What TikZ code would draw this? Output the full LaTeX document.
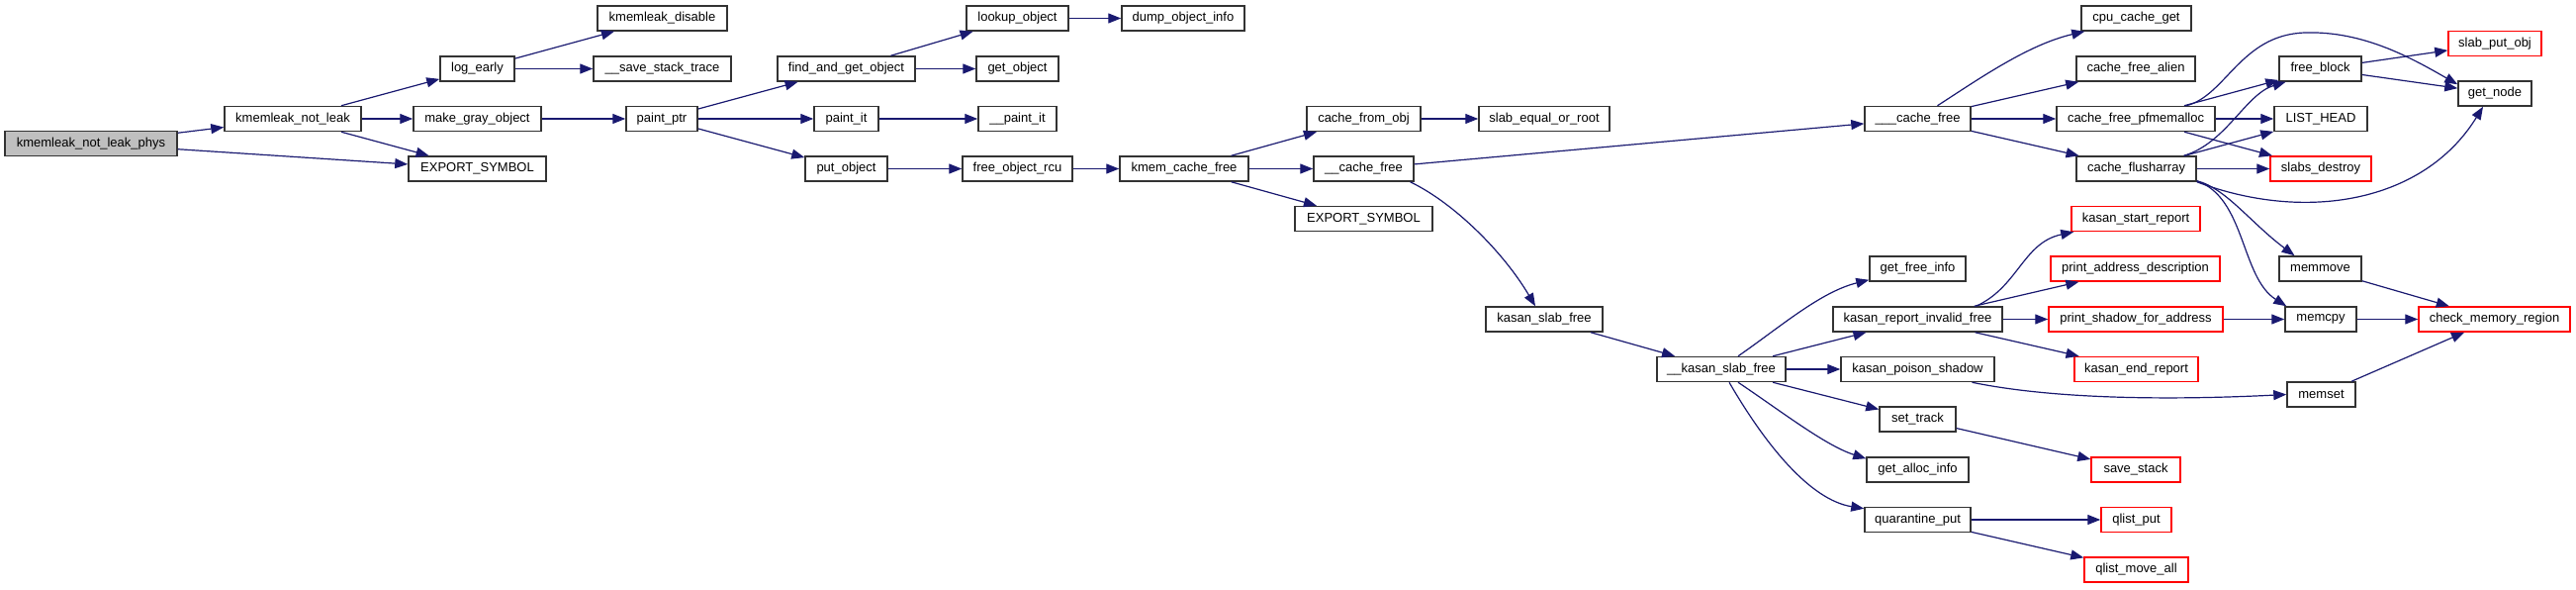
\documentclass[tikz,border=0pt]{standalone}
\usepackage{fontspec}
\setmainfont{Liberation Sans}
\usetikzlibrary{arrows.meta}
\definecolor{midnightblue}{HTML}{191970}
\definecolor{rootgray}{HTML}{BFBFBF}
\begin{document}
\begin{tikzpicture}[x=1pt,y=1pt,
    fn/.style={draw=black!80,line width=1.5pt,minimum height=25pt,inner sep=0pt,
        font=\fontsize{13}{15}\selectfont},
    root/.style={fn,fill=rootgray},
    ext/.style={fn,draw=red},
    call/.style={draw=midnightblue,line width=1.2pt,-{Triangle[length=13pt,width=10pt]}}]
\useasboundingbox (0,0) rectangle (2604,-595);
\node[root,minimum width=174] (phys) at (92,-145) {kmemleak\_not\_leak\_phys};
\node[fn,minimum width=138] (notleak) at (296,-120) {kmemleak\_not\_leak};
\node[fn,minimum width=131] (kdisable) at (669.5,-18.5) {kmemleak\_disable};
\node[fn,minimum width=75] (logearly) at (482.5,-69.5) {log\_early};
\node[fn,minimum width=139] (savetrace) at (669.5,-69.5) {\_\_save\_stack\_trace};
\node[fn,minimum width=129] (mkgray) at (482.5,-120) {make\_gray\_object};
\node[fn,minimum width=139] (export1) at (482.5,-170.5) {EXPORT\_SYMBOL};
\node[fn,minimum width=72] (paintptr) at (669,-120) {paint\_ptr};
\node[fn,minimum width=139] (findget) at (855.5,-69.5) {find\_and\_get\_object};
\node[fn,minimum width=103] (lookup) at (1028.5,-18.5) {lookup\_object};
\node[fn,minimum width=124] (dumpinfo) at (1196,-18.5) {dump\_object\_info};
\node[fn,minimum width=83] (getobj) at (1028.5,-69.5) {get\_object};
\node[fn,minimum width=65] (paintit) at (855.5,-120) {paint\_it};
\node[fn,minimum width=79] (upaintit) at (1028.5,-120) {\_\_paint\_it};
\node[fn,minimum width=83] (putobj) at (855.5,-170.5) {put\_object};
\node[fn,minimum width=111] (freercu) at (1028.5,-170.5) {free\_object\_rcu};
\node[fn,minimum width=130] (kmcfree) at (1197,-170.5) {kmem\_cache\_free};
\node[fn,minimum width=115] (cachefromobj) at (1378.5,-120) {cache\_from\_obj};
\node[fn,minimum width=132] (slabeq) at (1561,-120) {slab\_equal\_or\_root};
\node[fn,minimum width=101] (ucachefree) at (1378.5,-170.5) {\_\_cache\_free};
\node[fn,minimum width=139] (export2) at (1378.5,-221) {EXPORT\_SYMBOL};
\node[fn,minimum width=118] (kslabfree) at (1561,-322.5) {kasan\_slab\_free};
\node[fn,minimum width=107] (uucachefree) at (1938.5,-120) {\_\_\_cache\_free};
\node[fn,minimum width=111] (cpucget) at (2159.5,-18.5) {cpu\_cache\_get};
\node[fn,minimum width=120] (cfalien) at (2159,-69.5) {cache\_free\_alien};
\node[fn,minimum width=160] (cfpm) at (2159,-120) {cache\_free\_pfmemalloc};
\node[fn,minimum width=121] (cflush) at (2159.5,-170.5) {cache\_flusharray};
\node[fn,minimum width=83] (freeblock) at (2345.5,-69.5) {free\_block};
\node[ext,minimum width=94] (slabput) at (2522,-44) {slab\_put\_obj};
\node[fn,minimum width=74] (getnode) at (2522,-94.5) {get\_node};
\node[fn,minimum width=94] (listhead) at (2346,-120) {LIST\_HEAD};
\node[ext,minimum width=102] (slabsdestroy) at (2346,-170.5) {slabs\_destroy};
\node[fn,minimum width=83] (memmove) at (2345.5,-271.5) {memmove};
\node[fn,minimum width=72] (memcpy) at (2346,-322.5) {memcpy};
\node[fn,minimum width=69] (memset) at (2346.5,-398.5) {memset};
\node[ext,minimum width=153] (checkmem) at (2521.5,-322.5) {check\_memory\_region};
\node[fn,minimum width=130] (ukslabfree) at (1740,-373) {\_\_kasan\_slab\_free};
\node[fn,minimum width=97] (getfreeinfo) at (1938.5,-271.5) {get\_free\_info};
\node[fn,minimum width=171] (kreportinv) at (1938.5,-322.5) {kasan\_report\_invalid\_free};
\node[fn,minimum width=155] (kpoison) at (1938.5,-373) {kasan\_poison\_shadow};
\node[fn,minimum width=77] (settrack) at (1938.5,-423.5) {set\_track};
\node[fn,minimum width=103] (getallocinfo) at (1938.5,-474.5) {get\_alloc\_info};
\node[fn,minimum width=107] (qput) at (1938.5,-525) {quarantine\_put};
\node[ext,minimum width=130] (kstartrep) at (2159,-221) {kasan\_start\_report};
\node[ext,minimum width=171] (printaddr) at (2158.5,-271.5) {print\_address\_description};
\node[ext,minimum width=176] (printshadow) at (2159,-322.5) {print\_shadow\_for\_address};
\node[ext,minimum width=125] (kendrep) at (2159.5,-373) {kasan\_end\_report};
\node[ext,minimum width=90] (savestack) at (2159,-474.5) {save\_stack};
\node[ext,minimum width=71] (qlistput) at (2159.5,-525) {qlist\_put};
\node[ext,minimum width=105] (qlistmoveall) at (2159.5,-575.5) {qlist\_move\_all};
% straight calls
\foreach \a/\b in {phys/notleak,phys/export1,notleak/logearly,notleak/mkgray,notleak/export1,
    logearly/kdisable,logearly/savetrace,mkgray/paintptr,paintptr/findget,paintptr/paintit,
    paintptr/putobj,findget/lookup,findget/getobj,lookup/dumpinfo,paintit/upaintit,
    putobj/freercu,freercu/kmcfree,kmcfree/cachefromobj,kmcfree/ucachefree,kmcfree/export2,
    cachefromobj/slabeq,ucachefree/uucachefree,uucachefree/cfalien,uucachefree/cfpm,
    uucachefree/cflush,cfpm/freeblock,cfpm/listhead,cfpm/slabsdestroy,cflush/listhead,
    cflush/slabsdestroy,freeblock/slabput,freeblock/getnode,kslabfree/ukslabfree,
    ukslabfree/kreportinv,ukslabfree/kpoison,ukslabfree/settrack,kreportinv/printaddr,
    kreportinv/printshadow,kreportinv/kendrep,settrack/savestack,qput/qlistput,
    qput/qlistmoveall,printshadow/memcpy,memmove/checkmem,memcpy/checkmem,memset/checkmem}
    \draw[call] (\a) -- (\b);
% curved calls
\draw[call] ([xshift=47pt]ucachefree.south) .. controls (1470,-205) and (1520,-255) .. ([xshift=-9pt]kslabfree.north);
\draw[call] ([xshift=20pt]uucachefree.north) .. controls (2000,-80) and (2050,-45) .. ([xshift=4pt]cpucget.south west);
\draw[call] ([xshift=51pt]cfpm.north) .. controls (2250,-97) and (2265,-35) .. (2330,-33)
    .. controls (2390,-31) and (2440,-60) .. ([yshift=-4pt]getnode.north west);
\draw[call] ([xshift=48pt]cflush.north) .. controls (2250,-145) and (2270,-95) .. ([xshift=-35pt]freeblock.south);
\draw[call] (cflush.south east) .. controls (2330,-225) and (2450,-205) .. ([xshift=-12pt]getnode.south);
\draw[call] ([yshift=1pt]cflush.south east) .. controls (2250,-190) and (2275,-225) .. ([xshift=-26pt]memmove.north);
\draw[call] ([yshift=1pt]cflush.south east) .. controls (2270,-200) and (2265,-280) .. ([xshift=2pt]memcpy.north west);
\draw[call] ([xshift=17pt]ukslabfree.north) .. controls (1800,-330) and (1840,-295) .. ([yshift=2pt]getfreeinfo.south west);
\draw[call] ([xshift=17pt]ukslabfree.south) .. controls (1800,-415) and (1845,-450) .. ([yshift=-2pt]getallocinfo.north west);
\draw[call] ([xshift=8pt]ukslabfree.south) .. controls (1785,-450) and (1830,-505) .. ([yshift=-2pt]qput.north west);
\draw[call] ([xshift=59pt]kreportinv.north) .. controls (2040,-290) and (2045,-245) .. ([xshift=3pt]kstartrep.south west);
\draw[call] ([xshift=55pt]kpoison.south) .. controls (2070,-402) and (2180,-405) .. (memset.west);
\end{tikzpicture}
\end{document}
